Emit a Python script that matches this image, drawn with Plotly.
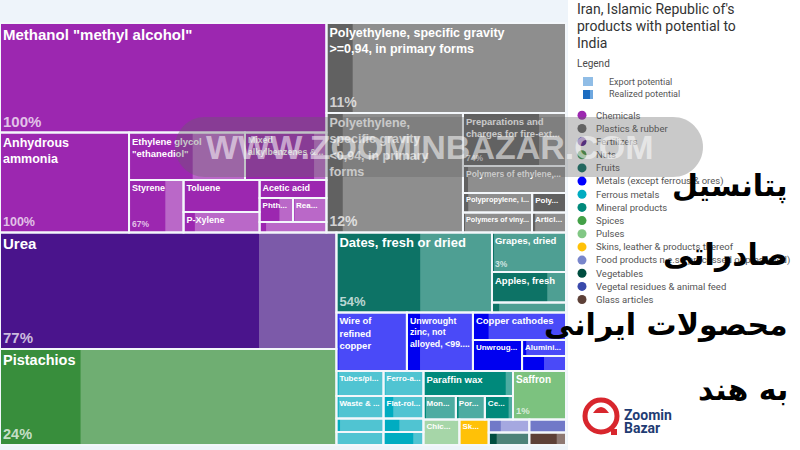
import plotly.graph_objects as go

W, H = 800, 450

# ---------------- data ----------------
products = [
    'Methanol "methyl alcohol"', 'Anhydrous ammonia', 'Ethylene glycol "ethanediol"',
    'Mixed alkylbenzenes & mixed alkylnaphthalenes', 'Styrene', 'Toluene', 'P-Xylene', 'Acetic acid',
    'Phthalic anhydride', 'Reaction initiators', 'Other chemicals',
    'Polyethylene, specific gravity >=0,94, in primary forms',
    'Polyethylene, specific gravity <0,94, in primary forms',
    'Preparations and charges for fire-extinguishers', 'Polymers of ethylene, in primary forms',
    'Polypropylene, in primary forms', 'Polyacetals', 'Polymers of vinyl chloride',
    'Articles for the conveyance of goods',
    'Urea', 'Pistachios',
    'Dates, fresh or dried', 'Grapes, dried', 'Apples, fresh', 'Other fruits',
    'Wire of refined copper', 'Unwrought zinc, not alloyed, <99,99%', 'Copper cathodes',
    'Unwrought aluminium', 'Aluminium plates', 'Other metals',
    'Tubes/pipes of iron or steel', 'Ferro-alloys', 'Waste & scrap of iron', 'Flat-rolled iron or steel',
    'Iron bars and rods', 'Steel angles', 'Semi-finished iron', 'Iron wire',
    'Paraffin wax', 'Monumental stone', 'Portland cement', 'Cement clinkers',
    'Saffron', 'Chickpeas', 'Skins of sheep', 'Food preparations', 'Other food products',
    'Vegetables n.e.s.', 'Glass articles',
]
sector = [
    'Chemicals'] * 11 + ['Plastics & rubber'] * 8 + ['Fertilizers', 'Nuts'] + ['Fruits'] * 4 + \
    ['Metals (except ferrous & ores)'] * 6 + ['Ferrous metals'] * 8 + ['Mineral products'] * 4 + \
    ['Spices', 'Pulses', 'Skins, leather & products thereof',
     'Food products n.e.s. (processed or preserved)', 'Food products n.e.s. (processed or preserved)',
     'Vegetables', 'Glass articles']
# export potential (estimated, US$ m)
potential = [357.5, 129.0, 55.1, 38.7, 28.6, 24.3, 15.6, 12.1, 8.0, 8.0, 7.0,
             215.6, 163.1, 54.6, 27.8, 13.5, 6.6, 13.8, 6.8,
             392.0, 323.0,
             124.4, 29.2, 22.6, 7.4,
             41.2, 38.6, 25.6, 15.2, 7.0, 6.6,
             11.8, 10.0, 10.6, 9.0, 6.4, 5.4, 6.1, 5.2,
             22.4, 7.6, 6.8, 6.6,
             25.7, 9.2, 7.5, 5.3, 4.8, 5.1, 4.6]
# realized potential (%)
realized = [100, 100, 55, 85, 67, 100, 15, 100, 60, 5, 10,
            11, 12, 74, 5, 8, 100, 3, 10,
            77, 24,
            54, 3, 75, 10,
            3, 20, 17, 100, 10, 50,
            5, 5, 5, 25, 8, 40, 2, 75,
            92, 8, 10, 85,
            1, 3, 100, 30, 100, 20, 75]
# label as printed in the cell ('' = no label visible)
shown_label = [
    'Methanol "methyl alcohol"', 'Anhydrous<br>ammonia', 'Ethylene glycol<br>"ethanediol"',
    'Mixed<br>alkylbenzenes &...', 'Styrene', 'Toluene', 'P-Xylene', 'Acetic acid', 'Phth...', 'Rea...', '',
    'Polyethylene, specific gravity<br>&gt;=0,94, in primary forms',
    'Polyethylene,<br>specific gravity<br>&lt;0,94, in primary<br>forms',
    'Preparations and<br>charges for fire-ext...', 'Polymers of ethylene,...',
    'Polypropylene, i...', 'Poly...', 'Polymers of viny...', 'Articl...',
    'Urea', 'Pistachios',
    'Dates, fresh or dried', 'Grapes, dried', 'Apples, fresh', '',
    'Wire of<br>refined<br>copper', 'Unwrought<br>zinc, not<br>alloyed, &lt;99....', 'Copper cathodes',
    'Unwroug...', 'Alumini...', '',
    'Tubes/pi...', 'Ferro-a...', 'Waste & ...', 'Flat-rol...', '', '', '', '',
    'Paraffin wax', 'Mon...', 'Por...', 'Ce...',
    'Saffron', 'Chic...', 'Sk...', '', '', '', '']
pct_shown = {0, 1, 4, 11, 12, 13, 19, 20, 21, 22, 43}

legend_sectors = ['Chemicals', 'Plastics & rubber', 'Fertilizers', 'Nuts', 'Fruits',
                  'Metals (except ferrous & ores)', 'Ferrous metals', 'Mineral products', 'Spices',
                  'Pulses', 'Skins, leather & products thereof',
                  'Food products n.e.s. (processed or preserved)', 'Vegetables',
                  'Vegetal residues & animal feed', 'Glass articles']

# ---------------- styles ----------------
DARK = {'Chemicals': '#9c27b0', 'Plastics & rubber': '#616161', 'Fertilizers': '#4a148c',
        'Nuts': '#388e3c', 'Fruits': '#0d7366', 'Metals (except ferrous & ores)': '#0000f0',
        'Ferrous metals': '#00acc1', 'Mineral products': '#00897b', 'Spices': '#43a047',
        'Pulses': '#81c784', 'Skins, leather & products thereof': '#ffc107',
        'Food products n.e.s. (processed or preserved)': '#7179c8', 'Vegetables': '#004d40',
        'Vegetal residues & animal feed': '#3949ab', 'Glass articles': '#5d4037'}
LIGHT = {'Chemicals': '#ba68c8', 'Plastics & rubber': '#8e8e8e', 'Fertilizers': '#7c5aa9',
         'Nuts': '#6fae72', 'Fruits': '#4e9f93', 'Metals (except ferrous & ores)': '#4a4af8',
         'Ferrous metals': '#50c4d2', 'Mineral products': '#4daca2', 'Spices': '#7cc27f',
         'Pulses': '#a6d6a8', 'Skins, leather & products thereof': '#ffd451',
         'Food products n.e.s. (processed or preserved)': '#a5a8e0', 'Vegetables': '#4d8279',
         'Vegetal residues & animal feed': '#7480c4', 'Glass articles': '#8e7973'}
LEGEND_DOT = dict(DARK)
LEGEND_DOT['Fruits'] = '#00695c'
LEGEND_DOT['Metals (except ferrous & ores)'] = '#0000ff'
LEGEND_DOT['Food products n.e.s. (processed or preserved)'] = '#7986cb'

LABEL_SIZE = {0: 15, 1: 12.5, 2: 9.5, 3: 9, 4: 9, 5: 9, 6: 9, 7: 9, 8: 8, 9: 8,
              11: 12.5, 12: 12.5, 13: 9.5, 14: 8.5, 15: 8, 16: 8, 17: 8, 18: 8,
              19: 15, 20: 14.5, 21: 13, 22: 9.5, 23: 9.5,
              25: 9.5, 26: 9.5, 27: 9.5, 28: 8, 29: 8,
              31: 8, 32: 8, 33: 8, 34: 8, 39: 9.5, 40: 8, 41: 8, 42: 8, 43: 10, 44: 8, 45: 8}
PCT_SIZE = {0: 15, 1: 12.5, 4: 8.5, 11: 14, 12: 14, 13: 8.5, 19: 15, 20: 14.5, 21: 13, 22: 8.5, 43: 9.5}

# tiling arrangement ('v' = stacked, 'h' = side by side), entries are product indices
TILING = ('v', [
    ('h', [
        ('v', [0, ('h', [1, ('v', [('h', [2, 3]),
                                   ('h', [4, ('v', [5, 6]), ('v', [7, ('h', [8, 9]), 10])])])])]),
        ('v', [11, ('h', [12, ('v', [13, 14, ('h', [15, 16]), ('h', [17, 18])])])]),
    ]),
    ('h', [
        ('v', [19, 20]),
        ('v', [
            ('h', [21, ('v', [22, 23, 24])]),
            ('h', [25, 26, ('v', [27, ('h', [28, ('v', [29, 30])])])]),
            ('h', [('v', [('h', [31, 32]), ('h', [33, 34]), ('h', [35, 36]), ('h', [37, 38])]),
                   ('v', [('h', [('v', [39, ('h', [40, 41, 42])]), 43]),
                          ('h', [44, 45, ('v', [46, 48]), ('v', [47, 49])])])]),
        ]),
    ]),
])

CLEAR = 'rgba(0,0,0,0)'
BORDER = '#f3f7fb'
FONT = 'Liberation Sans, Arial, sans-serif'

A = dict(ids=[], parents=[], labels=[], values=[], colors=[])
B = dict(ids=[], parents=[], labels=[], values=[], text=[], size=[], lw=[], pct=[], psize=[])


def add_group(gid, parent):
    A['ids'].append(gid); A['parents'].append(parent); A['labels'].append(gid)
    A['values'].append(0); A['colors'].append(CLEAR)
    B['ids'].append(gid); B['parents'].append(parent); B['labels'].append(gid)
    B['values'].append(0); B['text'].append(''); B['size'].append(8); B['lw'].append(0)
    B['pct'].append(''); B['psize'].append(8)


def add_product(i, parent):
    pid = 'p%d' % i
    sec = sector[i]
    v = potential[i]
    r = realized[i] / 100.0
    A['ids'].append(pid); A['parents'].append(parent); A['labels'].append(products[i])
    A['values'].append(0); A['colors'].append(LIGHT[sec])
    if r > 0:
        A['ids'].append(pid + 'r'); A['parents'].append(pid); A['labels'].append(products[i] + ' (realized)')
        A['values'].append(v * r); A['colors'].append(DARK[sec])
    if r < 1:
        A['ids'].append(pid + 'u'); A['parents'].append(pid); A['labels'].append(products[i] + ' (unrealized)')
        A['values'].append(v * (1 - r)); A['colors'].append(LIGHT[sec])
    B['ids'].append(pid); B['parents'].append(parent); B['labels'].append(products[i])
    B['values'].append(v); B['text'].append(shown_label[i]); B['size'].append(LABEL_SIZE.get(i, 8))
    B['lw'].append(2)
    B['pct'].append('%d%%' % realized[i] if i in pct_shown else '')
    B['psize'].append(PCT_SIZE.get(i, 8))


def place(node, parent, depth, path):
    is_group = isinstance(node, tuple)
    need_even = is_group and node[0] == 'v'
    if (depth % 2 == 0) != need_even:
        wid = 'w' + path
        add_group(wid, parent)
        parent, depth = wid, depth + 1
    if is_group:
        gid = 'g' + path
        add_group(gid, parent)
        for k, ch in enumerate(node[1]):
            place(ch, gid, depth + 1, path + '.%d' % k)
    else:
        add_product(node, parent)


place(TILING, '', 0, '')

common = dict(branchvalues='remainder', sort=False,
              domain=dict(x=[0, 566 / W], y=[1 - 445 / H, 1 - 23 / H]),
              tiling=dict(packing='dice-slice', pad=0), pathbar=dict(visible=False),
              root=dict(color=CLEAR), hoverinfo='skip')
PAD0 = dict(t=0, l=0, r=0, b=0)

fills = go.Treemap(ids=A['ids'], parents=A['parents'], labels=A['labels'], values=A['values'],
                   marker=dict(colors=A['colors'], line=dict(width=0), pad=PAD0),
                   textinfo='none', **common)
labels_tr = go.Treemap(ids=B['ids'], parents=B['parents'], labels=B['labels'], values=B['values'],
                       marker=dict(colors=[CLEAR] * len(B['ids']), line=dict(width=B['lw'], color=BORDER),
                                   pad=PAD0),
                       textinfo='text', text=B['text'], textposition='top left',
                       textfont=dict(family=FONT, size=B['size'], color='white', weight='bold'), **common)
pct_tr = go.Treemap(ids=B['ids'], parents=B['parents'], labels=B['labels'], values=B['values'],
                    marker=dict(colors=[CLEAR] * len(B['ids']), line=dict(width=0), pad=PAD0),
                    textinfo='text', text=B['pct'], textposition='bottom left',
                    textfont=dict(family=FONT, size=B['psize'], color='rgba(255,255,255,0.72)',
                                  weight='bold'), **common)

fig = go.Figure([fills, labels_tr, pct_tr])


def px(x):
    return x / W


def py(y):
    return 1 - y / H


shapes = [dict(type='rect', xref='paper', yref='paper', x0=0, x1=px(568), y0=0, y1=1,
               fillcolor='#eef4fa', line=dict(width=0), layer='below')]
ann = []

# right panel: title and legend
for k, line in enumerate(["Iran, Islamic Republic of's", 'products with potential to', 'India']):
    ann.append(dict(x=px(575), y=py(9.5 + 16.5 * k), xref='paper', yref='paper', xanchor='left',
                    yanchor='middle', text=line, showarrow=False,
                    font=dict(family='Roboto, Arial', size=14, color='#333333')))
ann.append(dict(x=px(575), y=py(63), xref='paper', yref='paper', xanchor='left', yanchor='middle',
                text='Legend', showarrow=False, font=dict(family='Roboto, Arial', size=10, color='#4a4a4a')))
for k, t in enumerate(['Export potential', 'Realized potential']):
    ann.append(dict(x=px(607), y=py(81.5 + 13 * k), xref='paper', yref='paper', xanchor='left',
                    yanchor='middle', text=t, showarrow=False,
                    font=dict(family='Roboto, Arial', size=9, color='#555555')))
shapes.append(dict(type='rect', xref='paper', yref='paper', x0=px(583), x1=px(593), y0=py(86),
                   y1=py(77), fillcolor='#90bde6', line=dict(width=0)))
shapes.append(dict(type='rect', xref='paper', yref='paper', x0=px(583), x1=px(590), y0=py(99),
                   y1=py(90), fillcolor='#1c6cc0', line=dict(width=0)))
shapes.append(dict(type='rect', xref='paper', yref='paper', x0=px(590), x1=px(593), y0=py(99),
                   y1=py(90), fillcolor='#6ea7df', line=dict(width=0)))
for k, s in enumerate(legend_sectors):
    yc = 115.3 + 13.16 * k
    shapes.append(dict(type='circle', xref='paper', yref='paper', x0=px(577.5), x1=px(586.5),
                       y0=py(yc + 4.5), y1=py(yc - 4.5), fillcolor=LEGEND_DOT[s], line=dict(width=0)))
    ann.append(dict(x=px(594), y=py(yc), xref='paper', yref='paper', xanchor='left', yanchor='middle',
                    text=s, showarrow=False, font=dict(family='Roboto, Arial', size=9.5, color='#555555')))

# watermark band
k_ = 0.5523
x0w, x1w, y0w, y1w, rw = 175, 703, 117, 177, 30
pts = [('M', [(x0w + rw, y0w)]), ('L', [(x1w - rw, y0w)]),
       ('C', [(x1w - rw + k_ * rw, y0w), (x1w, y0w + rw - k_ * rw), (x1w, y0w + rw)]),
       ('C', [(x1w, y0w + rw + k_ * rw), (x1w - rw + k_ * rw, y1w), (x1w - rw, y1w)]),
       ('L', [(x0w + rw, y1w)]),
       ('C', [(x0w + rw - k_ * rw, y1w), (x0w, y0w + rw + k_ * rw), (x0w, y0w + rw)]),
       ('C', [(x0w, y0w + rw - k_ * rw), (x0w + rw - k_ * rw, y0w), (x0w + rw, y0w)])]
path = ' '.join(c + ' ' + ' '.join('%.5f,%.5f' % (px(a), py(b)) for a, b in p) for c, p in pts) + ' Z'
shapes.append(dict(type='path', xref='paper', yref='paper', path=path,
                   fillcolor='rgba(100,100,100,0.35)', line=dict(width=0), layer='above'))
ann.append(dict(x=px(430), y=py(147), xref='paper', yref='paper', xanchor='center', yanchor='middle',
                text='WWW.ZOOMINBAZAR.COM', showarrow=False,
                font=dict(family='Liberation Sans, Arial', size=34, color='rgba(255,255,255,0.55)',
                          weight='bold')))

# Persian caption
for t, yc in [('پتانسیل', 186), ('صادراتی', 254), ('محصولات ایرانی', 324), ('به هند', 389)]:
    ann.append(dict(x=px(790), y=py(yc), xref='paper', yref='paper', xanchor='right', yanchor='middle',
                    text=t, showarrow=False,
                    font=dict(family='DejaVu Sans, sans-serif', size=30, color='black', weight='bold')))

# logo
shapes.append(dict(type='circle', xref='paper', yref='paper', x0=px(585), x1=px(617), y0=py(432),
                   y1=py(400), line=dict(color='#d8262d', width=5), fillcolor=CLEAR))
shapes.append(dict(type='path', xref='paper', yref='paper',
                   path='M %f,%f Q %f,%f %f,%f Z' % (px(593), py(413), px(601), py(401), px(609), py(413)),
                   fillcolor='#d8262d', line=dict(width=0)))
shapes.append(dict(type='rect', xref='paper', yref='paper', x0=px(611), x1=px(617), y0=py(435),
                   y1=py(429), fillcolor='#d8262d', line=dict(width=0)))
for t, yc in [('Zoomin', 414.5), ('Bazar', 427.5)]:
    ann.append(dict(x=px(622), y=py(yc), xref='paper', yref='paper', xanchor='left', yanchor='middle',
                    text=t, showarrow=False,
                    font=dict(family='Roboto, Arial', size=14, color='#1f3c73', weight='bold')))

fig.update_layout(width=W, height=H, margin=dict(l=0, r=0, t=0, b=0), paper_bgcolor='white',
                  showlegend=False, shapes=shapes, annotations=ann)
fig.write_html('out.html')
